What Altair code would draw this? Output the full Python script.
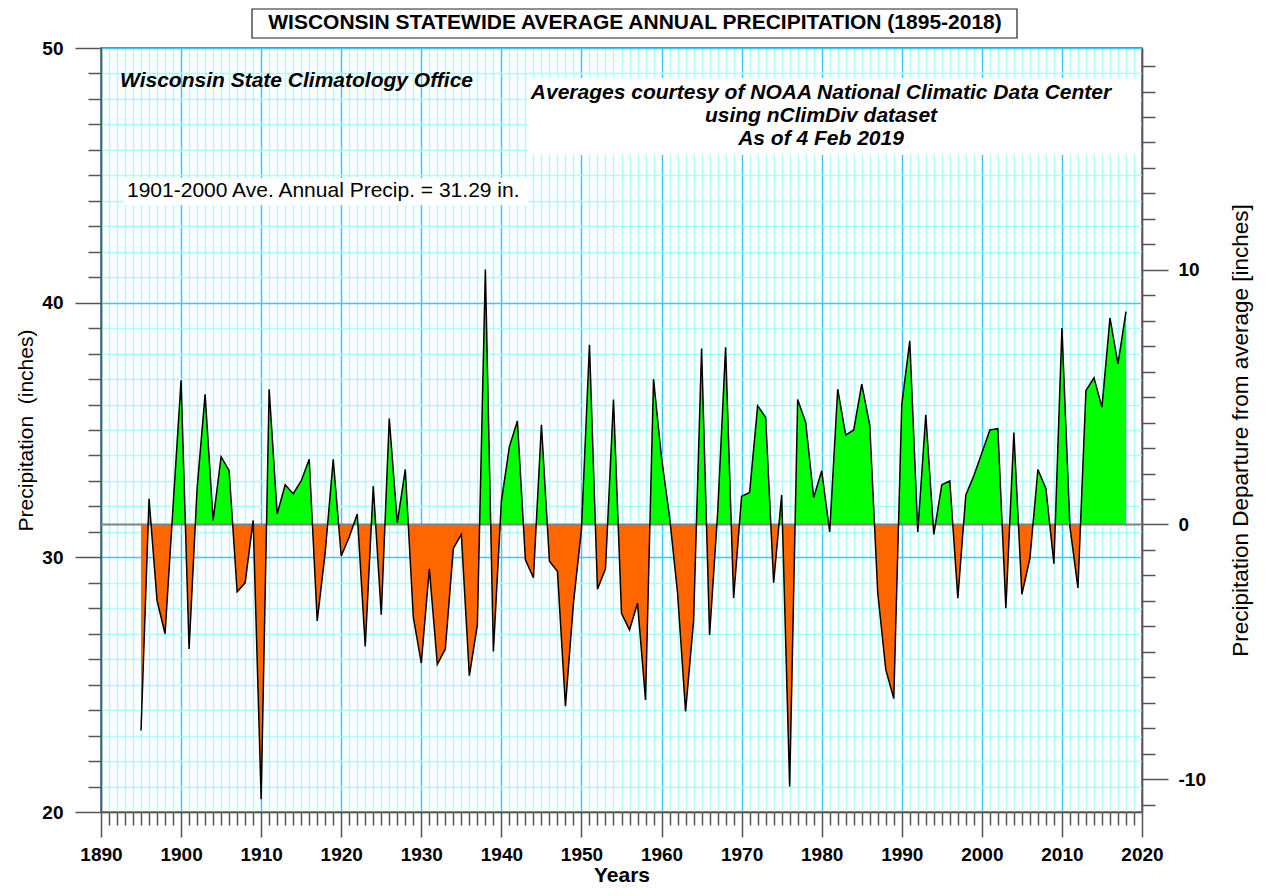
import altair as alt
import pandas as pd

BASE = 31.29

years = list(range(1895, 2019))
precip = [
    23.2, 32.3, 28.3, 27.0, 32.0, 36.95, 26.4, 32.7, 36.4, 31.45,   # 1895-1904
    33.95, 33.4, 28.65, 29.0, 31.45, 20.5, 36.6, 31.7, 32.85, 32.5,  # 1905-1914
    33.0, 33.85, 27.5, 30.2, 33.85, 30.05, 30.8, 31.7, 26.5, 32.8,   # 1915-1924
    27.75, 35.45, 31.35, 33.45, 27.65, 25.85, 29.55, 25.8, 26.4, 30.35,  # 1925-1934
    30.9, 25.35, 27.35, 41.3, 26.3, 32.2, 34.35, 35.35, 29.9, 29.2,  # 1935-1944
    35.2, 29.85, 29.45, 24.15, 28.2, 31.1, 38.35, 28.75, 29.55, 36.2,  # 1945-1954
    27.8, 27.15, 28.2, 24.4, 37.0, 33.9, 31.6, 28.6, 23.95, 27.5,    # 1955-1964
    38.2, 26.95, 31.7, 38.25, 28.4, 32.4, 32.55, 35.95, 35.5, 29.0,  # 1965-1974
    32.45, 21.0, 36.2, 35.3, 32.35, 33.4, 31.0, 36.6, 34.8, 35.0,    # 1975-1984
    36.8, 35.2, 28.6, 25.6, 24.45, 36.0, 38.5, 31.0, 35.6, 30.9,     # 1985-1994
    32.85, 33.0, 28.4, 32.45, 33.2, 34.1, 35.0, 35.05, 28.0, 34.9,   # 1995-2004
    28.55, 29.95, 33.45, 32.7, 29.75, 39.0, 31.2, 28.8, 36.55, 37.05,  # 2005-2014
    35.9, 39.4, 37.6, 39.65,                                          # 2015-2018
]

x_ticks = list(range(1890, 2021))
y_ticks = list(range(20, 51))
dep_ticks = list(range(-11, 19))

title_text = "WISCONSIN STATEWIDE AVERAGE ANNUAL PRECIPITATION (1895-2018)"
office_text = "Wisconsin State Climatology Office"
noaa_lines = [
    "Averages courtesy of NOAA National Climatic Data Center",
    "using nClimDiv dataset",
    "As of 4 Feb 2019",
]
ave_text = "1901-2000 Ave. Annual Precip. = 31.29 in."

FONT = "Liberation Sans"

df = pd.DataFrame({"year": years, "precip": precip})
df["dep"] = df["precip"] - BASE

# fill polygon rows, with baseline crossings inserted between years
rows = []
for i in range(len(years)):
    if i > 0:
        yp, vp = years[i - 1], precip[i - 1]
        y0, v0 = years[i], precip[i]
        if (vp - BASE) * (v0 - BASE) < 0:
            t = (BASE - vp) / (v0 - vp)
            rows.append({"year": yp + t * (y0 - yp), "precip": BASE})
    rows.append({"year": years[i], "precip": precip[i]})
fill = pd.DataFrame(rows)
fill["upper"] = fill["precip"].clip(lower=BASE)
fill["lower"] = fill["precip"].clip(upper=BASE)
fill["base"] = BASE

xs = alt.Scale(domain=[1890, 2020], nice=False, zero=False)
ys = alt.Scale(domain=[20, 50], nice=False, zero=False)
ds = alt.Scale(domain=[20 - BASE, 50 - BASE], nice=False, zero=False)

major10 = "datum.value % 10 === 0"
lab10 = f"{major10} ? ('' + datum.value) : ''"

x_axis = alt.Axis(
    values=x_ticks,
    labelExpr=lab10,
    labelOverlap=False, labelFlush=False,
    tickSize={"condition": {"test": major10, "value": 25}, "value": 13},
    gridColor={"condition": {"test": major10, "value": "#33CCFF"}, "value": "#A8FFFF"},
    gridWidth=1.5, grid=True,
    labelFontSize=19, labelFontWeight="bold", labelPadding=8,
    title="Years", titleFontSize=21, titleFontWeight="bold",
    titleY=69, titleBaseline="alphabetic",
)
y_axis = alt.Axis(
    values=y_ticks,
    labelExpr=lab10,
    labelOverlap=False, labelFlush=False,
    tickSize={"condition": {"test": major10, "value": 26}, "value": 13},
    gridColor={"condition": {"test": major10, "value": "#33CCFF"}, "value": "#A8FFFF"},
    gridWidth=1.5, grid=True,
    labelFontSize=19, labelFontWeight="bold", labelPadding=12,
    title="Precipitation\u00a0 (inches)", titleFontSize=21, titleFontWeight="normal",
    titlePadding=5,
)
r_axis = alt.Axis(
    values=dep_ticks, orient="right",
    labelExpr=lab10,
    labelOverlap=False, labelFlush=False,
    tickSize={"condition": {"test": major10, "value": 26}, "value": 13},
    grid=False,
    labelFontSize=19, labelFontWeight="bold", labelPadding=10,
    title="Precipitation Departure from average [inches]", titleFontSize=22.5,
    titleFontWeight="normal", titleAngle=-90, titlePadding=47,
)

green = alt.Chart(fill).mark_area(color="#00FF00", opacity=1).encode(
    x=alt.X("year:Q", scale=xs, axis=x_axis),
    y=alt.Y("upper:Q", scale=ys, axis=y_axis),
    y2="base:Q",
)
orange = alt.Chart(fill).mark_area(color="#FF6600", opacity=1).encode(
    x=alt.X("year:Q", scale=xs, axis=x_axis),
    y=alt.Y("lower:Q", scale=ys, axis=y_axis),
    y2="base:Q",
)
baseline = alt.Chart(pd.DataFrame({"b": [BASE]})).mark_rule(
    color="#808080", strokeWidth=2
).encode(y=alt.Y("b:Q", scale=ys, axis=y_axis))
line = alt.Chart(df).mark_line(color="black", strokeWidth=1.5).encode(
    x=alt.X("year:Q", scale=xs, axis=x_axis),
    y=alt.Y("precip:Q", scale=ys, axis=y_axis),
)

def box(x1, x2, y1, y2, stroke=None):
    kw = dict(fill="white")
    if stroke:
        kw.update(stroke=stroke, strokeWidth=1.2)
    return alt.Chart(pd.DataFrame({"a": [0]})).mark_rect(**kw).encode(
        x=alt.value(x1), x2=alt.value(x2), y=alt.value(y1), y2=alt.value(y2)
    )

def label(text, x, y, size=21, weight="bold", style="normal", align="left"):
    return alt.Chart(pd.DataFrame({"t": [text]})).mark_text(
        font=FONT, fontSize=size, fontWeight=weight, fontStyle=style,
        align=align, baseline="middle", color="black",
    ).encode(x=alt.value(x), y=alt.value(y), text="t:N")

noaa_box = box(426, 1040, 30, 107)
ave_box = box(23, 427, 130, 157)
title_box = box(151, 916, -39, -10, stroke="#222222")

texts = [
    label(title_text, 534, -25, size=21, align="center"),
    label(office_text, 19, 33, style="italic"),
    label(ave_text, 26, 143, weight="normal"),
]
for i, t in enumerate(noaa_lines):
    texts.append(label(t, 720, 45 + 23 * i, style="italic", align="center"))

left = alt.layer(
    green, orange, baseline, line, noaa_box, ave_box, title_box, *texts
)

right = alt.Chart(df).mark_point(opacity=0).encode(
    x=alt.X("year:Q", scale=xs, axis=x_axis),
    y=alt.Y("dep:Q", scale=ds, axis=r_axis),
)

chart = alt.layer(left, right).resolve_scale(y="independent").properties(
    width=1041, height=764,
    autosize=alt.AutoSizeParams(type="none"),
    padding={"left": 93, "top": 40, "right": 115, "bottom": 72},
).configure_axis(
    labelFont=FONT, titleFont=FONT, domainColor="#555555", tickColor="#555555",
    domainWidth=1.5, tickWidth=1.5, labelColor="black", titleColor="black",
).configure_view(stroke="#555555", strokeWidth=1.5)

chart.save("out.html", embed_options={"renderer": "svg", "actions": False})
